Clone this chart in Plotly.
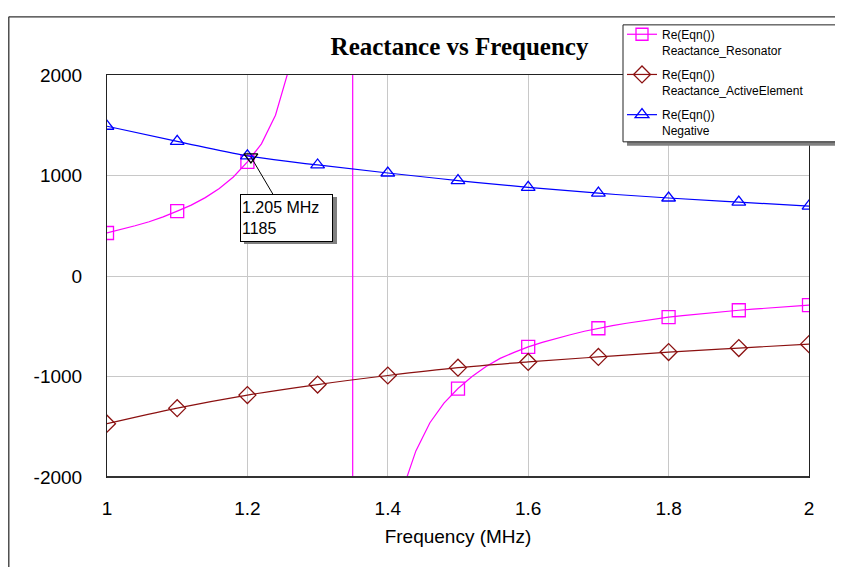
import plotly.graph_objects as go

# ---------------- data ----------------
freq_res = [1.00, 1.02, 1.04, 1.06, 1.08, 1.10, 1.12, 1.14, 1.16, 1.18,
            1.20, 1.22, 1.24, 1.26, 1.28, 1.30, 1.32, 1.34, 1.349, 1.351,
            1.36, 1.38, 1.40, 1.42, 1.44, 1.46, 1.48, 1.50, 1.52, 1.54,
            1.56, 1.58, 1.60, 1.62, 1.64, 1.66, 1.68, 1.70, 1.72, 1.74,
            1.76, 1.78, 1.80, 1.82, 1.84, 1.86, 1.88, 1.90, 1.92, 1.94,
            1.96, 1.98, 2.00]
react_resonator = [428, 462, 500, 540, 588, 645, 705, 780, 870, 985,
                   1135, 1315, 1600, 2080, 2700, 3600, 5900, 17700, 200000, -200000,
                   -14000, -4800, -3000, -2150, -1740, -1460, -1265, -1120, -1000, -900,
                   -820, -760, -705, -660, -620, -585, -550, -520, -493, -470,
                   -448, -428, -410, -395, -380, -366, -353, -341, -330, -319,
                   -309, -299, -290]

freq_coarse = [1.0, 1.1, 1.2, 1.3, 1.4, 1.5, 1.6, 1.7, 1.8, 1.9, 2.0]
react_active = [-1470, -1315, -1185, -1080, -990, -912, -855, -805, -757, -717, -678]
react_negative = [1490, 1340, 1195, 1105, 1025, 950, 882, 824, 776, 735, 696]

cursor_freq = [1.205]
cursor_val = [1185]

x_tickvals = [1, 1.2, 1.4, 1.6, 1.8, 2]
x_ticktext = ["1", "1.2", "1.4", "1.6", "1.8", "2"]
y_tickvals = [-2000, -1000, 0, 1000, 2000]
y_ticktext = ["-2000", "-1000", "0", "1000", "2000"]

legend_line1 = "Re(Eqn())"
names = ["Reactance_Resonator", "Reactance_ActiveElement", "Negative"]

# ---------------- styling ----------------
MAG = "#ff00ff"
RED = "#8b1010"
BLUE = "#0000ff"
W, H = 843, 567
OFF = 8  # page margin offset between screenshot and figure pixels
L, T, PW, PH = 107 - OFF, 68 - OFF, 702, 409
R = W - L - PW
B = H - T - PH


def px_x(p):  # screenshot pixel -> paper x
    return (p - OFF - L) / PW


def px_y(p):  # screenshot pixel -> paper y
    return (T + PH - (p - OFF)) / PH


res_marker_x = [f for f in freq_res if abs(f * 10 - round(f * 10)) < 1e-9]
res_marker_y = [v for f, v in zip(freq_res, react_resonator) if abs(f * 10 - round(f * 10)) < 1e-9]

fig = go.Figure()

# resonator: smooth curve + sampled markers; legend entry shown via empty trace
fig.add_trace(go.Scatter(
    x=freq_res, y=react_resonator, mode="lines", showlegend=False,
    line=dict(color=MAG, width=1.2), hoverinfo="skip"))
fig.add_trace(go.Scatter(
    x=res_marker_x, y=res_marker_y, mode="markers", showlegend=False,
    marker=dict(symbol="square-open", size=13, color=MAG, line=dict(width=1.3, color=MAG)),
    hoverinfo="skip"))
fig.add_trace(go.Scatter(
    x=[None], y=[None], mode="lines+markers",
    name=legend_line1 + "<br>" + names[0], legendgroup="g1",
    line=dict(color=MAG, width=1.2),
    marker=dict(symbol="square-open", size=12, color=MAG, line=dict(width=1.3, color=MAG))))

fig.add_trace(go.Scatter(
    x=freq_coarse, y=react_active, mode="lines+markers",
    name=legend_line1 + "<br>" + names[1], legendgroup="g2",
    line=dict(color=RED, width=1.2, shape="spline"),
    marker=dict(symbol="diamond-open", size=13, color=RED, line=dict(width=1.3, color=RED)),
    hoverinfo="skip"))

fig.add_trace(go.Scatter(
    x=freq_coarse, y=react_negative, mode="lines+markers",
    name=legend_line1 + "<br>" + names[2], legendgroup="g3",
    line=dict(color=BLUE, width=1.2, shape="spline"),
    marker=dict(symbol="triangle-up-open", size=12, color=BLUE, line=dict(width=1.3, color=BLUE)),
    hoverinfo="skip"))

fig.add_trace(go.Scatter(
    x=cursor_freq, y=cursor_val, mode="markers", showlegend=False,
    marker=dict(symbol="triangle-down-open", size=12, color="black", line=dict(width=1.3, color="black")),
    hoverinfo="skip"))

shapes = []
# outer frame (top and left edges of the chart image)
fx0 = -(L - 0.8) / PW
fy0 = (T + PH - 0.8) / PH
shapes.append(dict(type="line", xref="paper", yref="paper", x0=fx0, x1=(W - L + 20) / PW,
                   y0=fy0, y1=fy0, line=dict(color="#333333", width=1.3), layer="above"))
shapes.append(dict(type="line", xref="paper", yref="paper", x0=fx0, x1=fx0,
                   y0=fy0, y1=-(B + 20) / PH, line=dict(color="#333333", width=1.3), layer="above"))
# thicker bottom plot edge
shapes.append(dict(type="line", xref="paper", yref="paper", x0=0, x1=1, y0=0, y1=0,
                   line=dict(color="#333333", width=2), layer="above"))
# legend box with shadow
shapes.append(dict(type="rect", xref="paper", yref="paper", x0=px_x(627), x1=px_x(842),
                   y0=px_y(140), y1=px_y(21), fillcolor="#808080", line=dict(width=0), layer="above"))
shapes.append(dict(type="rect", xref="paper", yref="paper", x0=px_x(623), x1=px_x(838),
                   y0=px_y(136), y1=px_y(17), fillcolor="white", line=dict(color="#222222", width=1), layer="above"))
# cursor box shadow
shapes.append(dict(type="rect", xref="paper", yref="paper", x0=px_x(244), x1=px_x(337),
                   y0=px_y(240), y1=px_y(192), fillcolor="#808080", line=dict(width=0), layer="above"))
fig.update_layout(shapes=shapes)

fig.add_annotation(
    x=cursor_freq[0], y=cursor_val[0], xref="x", yref="y",
    text=f"{cursor_freq[0]:.3f} MHz<br>{cursor_val[0]}",
    showarrow=True, arrowhead=0, arrowwidth=1, arrowcolor="black",
    ax=36, ay=61, width=89, height=44, align="left", valign="middle",
    bgcolor="white", bordercolor="black", borderwidth=1, borderpad=1,
    font=dict(family="Liberation Sans, Arial, sans-serif", size=16, color="black"))

fig.update_layout(
    width=W, height=H,
    margin=dict(l=L, r=R, t=T, b=B),
    paper_bgcolor="white", plot_bgcolor="white",
    font=dict(family="Liberation Sans, Arial, sans-serif", color="black"),
    title=dict(text="<b>Reactance vs Frequency</b>", x=px_x(459.5), xref="paper",
               y=1 - (46 - OFF) / H, yref="container", xanchor="center", yanchor="middle",
               font=dict(family="Liberation Serif, Times New Roman, serif", size=25, color="black")),
    showlegend=True,
    legend=dict(x=px_x(622), y=px_y(12), xanchor="left", yanchor="top",
                bgcolor="rgba(0,0,0,0)", borderwidth=0, valign="top",
                tracegroupgap=6,
                font=dict(family="Liberation Sans, Arial, sans-serif", size=12, color="black")),
    xaxis=dict(range=[1, 2], tickvals=x_tickvals, ticktext=x_ticktext,
               showgrid=True, gridcolor="#c8c8c8", gridwidth=1, zeroline=False,
               showline=True, linecolor="#222222", linewidth=1, mirror=True,
               ticks="outside", ticklen=14, tickcolor="rgba(0,0,0,0)",
               tickfont=dict(size=19),
               title=dict(text="Frequency (MHz)", font=dict(size=19), standoff=11)),
    yaxis=dict(range=[-2000, 2000], tickvals=y_tickvals, ticktext=y_ticktext,
               showgrid=True, gridcolor="#c8c8c8", gridwidth=1, zeroline=False,
               showline=True, linecolor="#222222", linewidth=1, mirror=True,
               ticks="outside", ticklen=20, tickcolor="rgba(0,0,0,0)",
               tickfont=dict(size=19)),
)

fig.write_html("out.html")
